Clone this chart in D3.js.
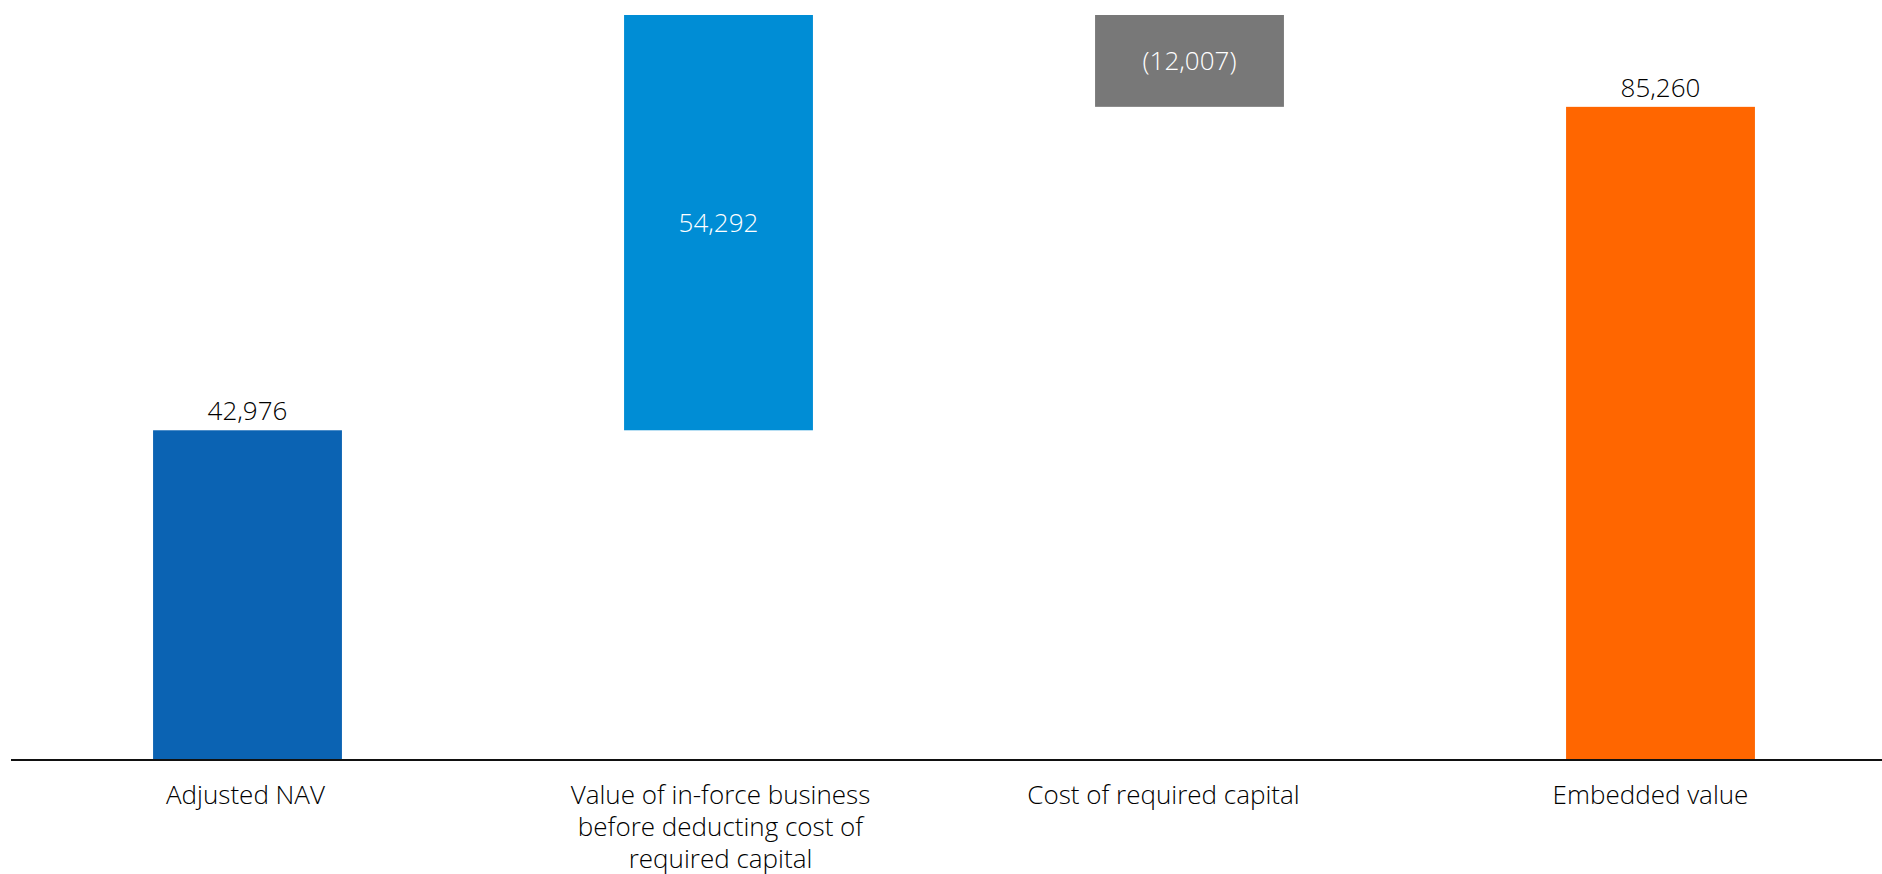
<!DOCTYPE html>
<html>
<head>
<meta charset="utf-8">
<script src="https://cdn.jsdelivr.net/npm/d3@7"></script>
<style>
  html, body { margin: 0; padding: 0; background: #ffffff; }
  svg { display: block; font-family: "Open Sans", "Noto Sans", sans-serif; }
</style>
</head>
<body>
<svg id="chart" width="1882" height="874"></svg>
<script>
// Embedded value build-up (waterfall)
const categories = [
  ["Adjusted NAV"],
  ["Value of in-force business", "before deducting cost of", "required capital"],
  ["Cost of required capital"],
  ["Embedded value"]
];
const values = [42976, 54292, -12007, 85260];
const kinds = ["total", "delta", "delta", "total"];
const colors = ["#0b63b3", "#008dd5", "#787878", "#ff6600"];

const width = 1882, height = 874;
const svg = d3.select("#chart");

// horizontal nudge of each category caption relative to its bar centre
const captionShift = [-2, 2, -26, -10];

// running start/end for each step
let running = 0;
const bars = values.map((v, i) => {
  let start, end;
  if (kinds[i] === "total") { start = 0; end = v; running = v; }
  else { start = running; end = running + v; running = end; }
  return { i, v, start, end, kind: kinds[i], lines: categories[i], color: colors[i] };
});

const x = d3.scaleBand()
  .domain(d3.range(categories.length))
  .range([12, 1896])
  .paddingInner(0.599)
  .paddingOuter(0.2995);

const yMax = d3.max(bars, d => Math.max(d.start, d.end));
const y = d3.scaleLinear().domain([0, yMax]).range([759, 15]);

const fmt = v => v < 0 ? "(" + d3.format(",")(-v) + ")" : d3.format(",")(v);

// bars
svg.append("g").selectAll("rect").data(bars).join("rect")
  .attr("x", d => x(d.i))
  .attr("width", x.bandwidth())
  .attr("y", d => y(Math.max(d.start, d.end)))
  .attr("height", d => Math.abs(y(d.start) - y(d.end)))
  .attr("fill", d => d.color);

// baseline axis
svg.append("line")
  .attr("x1", 11).attr("x2", width)
  .attr("y1", y(0) + 1).attr("y2", y(0) + 1)
  .attr("stroke", "#111111").attr("stroke-width", 2);

// value labels: totals above the bar, steps inside
svg.append("g").selectAll("text").data(bars).join("text")
  .attr("x", d => x(d.i) + x.bandwidth() / 2)
  .attr("y", d => d.kind === "total"
      ? y(d.end) - 10
      : (y(d.start) + y(d.end)) / 2)
  .attr("dy", d => d.kind === "total" ? 0 : "0.36em")
  .attr("text-anchor", "middle")
  .attr("font-size", 26)
  .attr("font-weight", 300)
  .attr("fill", d => d.kind === "total" ? "#000000" : "#ffffff")
  .text(d => fmt(d.v));

// category labels
const cat = svg.append("g").selectAll("text").data(bars).join("text")
  .attr("y", 804)
  .attr("text-anchor", "middle")
  .attr("font-size", 26)
  .attr("font-weight", 300)
  .attr("fill", "#000000");
cat.selectAll("tspan")
  .data(d => d.lines.map(t => ({ t, cx: x(d.i) + x.bandwidth() / 2 + captionShift[d.i] })))
  .join("tspan")
  .attr("x", d => d.cx)
  .attr("dy", (d, k) => k === 0 ? 0 : 32)
  .text(d => d.t);
</script>
</body>
</html>
